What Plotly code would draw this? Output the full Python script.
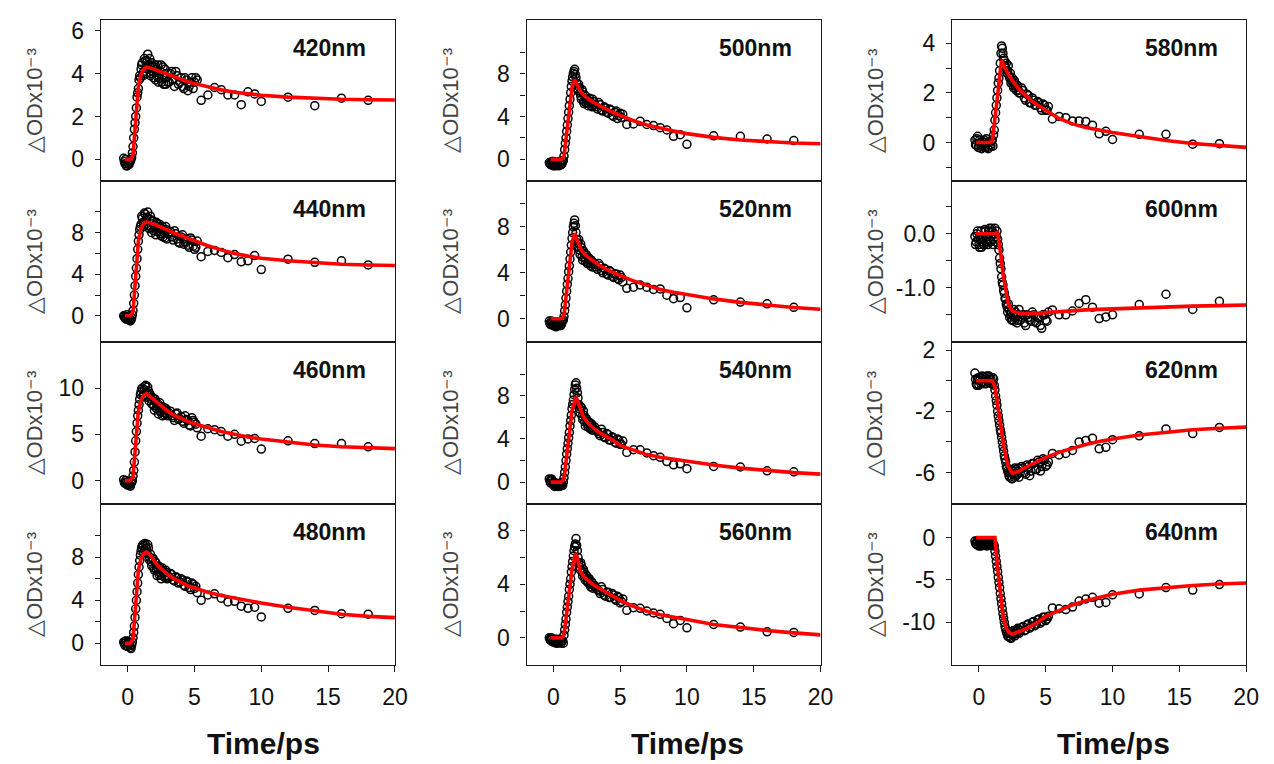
import plotly.graph_objects as go

# ---------------- data ----------------
DATA_T = [-0.3, -0.2, -0.1, 0.0, 0.1, 0.2, 0.3, 0.4, 0.5, 0.6,
          0.7, 0.8, 0.9, 1.0, 1.1, 1.2, 1.3, 1.4, 1.5, 1.6,
          1.7, 1.8, 1.9, 2.0, 2.1, 2.2, 2.3, 2.4, 2.5, 2.6,
          2.7, 2.8, 2.9, 3.0,
          3.2, 3.4, 3.6, 3.8, 4.0, 4.2, 4.4, 4.6, 4.8, 5.0, 5.2,
          5.5, 6.0, 6.5, 7.0, 7.5, 8.0, 8.5, 9.0, 9.5, 10.0, 12.0, 14.0, 16.0, 18.0]

# second (interleaved) scan of the dense early-time region
DATA_T2 = [-0.25, -0.15, -0.05, 0.05, 0.15, 0.25, 0.35, 0.45, 0.55, 0.65,
           0.75, 0.85, 0.95, 1.05, 1.15, 1.25, 1.35, 1.45, 1.55, 1.65,
           1.75, 1.85, 1.95, 2.05, 2.15, 2.25, 2.35, 2.45, 2.55, 2.65,
           2.75, 2.85, 2.95,
           3.1, 3.3, 3.5, 3.7, 3.9, 4.1, 4.3, 4.5, 4.7, 4.9, 5.1]

FIT_T = [-0.2, 0.2, 0.4, 0.6, 0.8, 1.0, 1.2, 1.4, 1.6, 1.7, 1.8, 2.0, 2.2, 2.5,
         3.0, 3.5, 4.0, 4.5, 5.0, 6.0, 7.0, 8.0, 9.0, 10.0, 12.0, 14.0, 16.0, 18.0, 20.0]

OD_420 = [0.05, -0.2, -0.3, -0.15, -0.25, -0.1, 0.1, 0.6, 1.4, 2.0,
          2.9, 3.3, 3.9, 4.2, 4.5, 4.1, 4.6, 4.3, 4.9, 4.4,
          3.9, 4.5, 4.1, 4.3, 3.7, 4.2, 3.6, 4.0, 4.4, 3.9,
          3.5, 4.2, 3.8, 3.6,
          4.0, 3.7, 4.1, 3.5, 3.8, 3.3, 3.7, 3.4, 3.8, 3.6, 3.7,
          2.75, 3.0, 3.35, 3.25, 3.0, 3.0, 2.55, 3.15, 3.05, 2.7, 2.9, 2.5, 2.85, 2.75]
OD_440 = [0.0, -0.2, -0.3, -0.1, -0.4, -0.5, -0.2, 0.5, 2.0, 3.8,
          5.5, 7.2, 8.3, 8.8, 9.4, 8.6, 9.8, 9.2, 10.0, 8.4,
          9.6, 8.0, 9.1, 8.5, 7.8, 8.9, 8.2, 8.8, 7.7, 8.6,
          8.0, 7.5, 8.3, 7.9,
          8.1, 7.3, 7.9, 7.1, 7.6, 6.9, 7.4, 6.6, 7.3, 6.4, 7.2,
          5.7, 6.2, 6.3, 6.1, 5.6, 5.9, 5.2, 5.3, 5.8, 4.45, 5.45, 5.15, 5.3, 4.9]
OD_460 = [0.1, -0.3, -0.2, -0.5, -0.3, -0.6, -0.2, 0.5, 2.0, 4.3,
          6.2, 7.6, 8.8, 9.6, 10.0, 9.3, 10.2, 9.6, 10.1, 8.6,
          9.2, 8.3, 8.9, 7.6, 8.5, 8.0, 7.2, 8.4, 7.5, 7.0,
          7.9, 7.3, 7.6, 7.0,
          7.5, 6.8, 7.2, 6.6, 6.9, 6.2, 6.6, 6.0, 6.8, 6.3, 5.7,
          4.8, 5.6, 5.5, 5.3, 4.8, 5.0, 4.25, 4.5, 4.55, 3.4, 4.3, 4.0, 4.0, 3.65]
OD_480 = [0.1, -0.2, 0.2, -0.3, 0.0, -0.4, -0.2, 0.5, 1.6, 3.2,
          4.8, 6.4, 7.7, 8.6, 9.1, 8.4, 9.3, 8.8, 9.2, 7.8,
          8.3, 7.2, 7.9, 6.8, 7.5, 6.3, 7.2, 6.6, 6.0, 7.0,
          6.5, 6.1, 6.6, 6.3,
          6.5, 5.9, 6.2, 5.6, 6.0, 5.4, 5.8, 5.2, 5.6, 5.1, 4.7,
          4.0, 4.5, 4.6, 4.2, 3.85, 3.9, 3.45, 3.25, 3.35, 2.45, 3.25, 3.05, 2.75, 2.7]
OD_500 = [-0.3, -0.5, -0.2, -0.6, -0.3, -0.5, -0.4, -0.6, -0.3, -0.5,
          -0.2, 0.3, 1.5, 2.6, 3.8, 5.0, 6.2, 7.3, 8.0, 8.4,
          7.6, 6.6, 7.0, 6.2, 5.6, 6.3, 5.2, 5.9, 5.5, 5.0,
          5.7, 5.3, 4.9, 5.4,
          4.9, 5.3, 4.6, 4.9, 4.4, 4.7, 4.1, 4.4, 3.8, 4.3, 4.2,
          3.25, 3.3, 3.55, 3.25, 3.15, 2.95, 2.75, 2.15, 2.3, 1.4, 2.2, 2.15, 1.9, 1.75]
OD_520 = [-0.2, -0.5, -0.3, -0.6, -0.4, -0.7, -0.3, -0.6, -0.4, -0.5,
          -0.2, 0.2, 1.2, 2.4, 3.5, 4.6, 5.8, 7.0, 8.0, 8.6,
          7.5, 6.3, 6.9, 5.6, 6.2, 5.1, 5.7, 5.0, 5.5, 4.9,
          5.2, 4.6, 5.0, 4.7,
          4.5, 4.8, 4.2, 4.4, 3.9, 4.2, 3.7, 3.9, 3.5, 3.8, 3.2,
          2.65, 2.75, 2.95, 2.75, 2.55, 2.6, 2.05, 1.75, 1.85, 0.95, 1.65, 1.45, 1.3, 1.0]
OD_540 = [0.3, -0.1, 0.2, -0.2, -0.4, -0.1, -0.3, -0.2, -0.4, -0.1,
          -0.3, 0.4, 1.4, 2.6, 3.6, 4.6, 5.7, 6.8, 7.6, 8.6,
          9.2, 8.3, 7.2, 6.4, 6.9, 5.8, 6.2, 5.2, 5.8, 5.1,
          5.5, 4.9, 5.3, 5.0,
          4.8, 4.5, 4.9, 4.2, 4.5, 3.9, 4.2, 3.7, 4.0, 3.5, 3.8,
          2.75, 3.0, 3.0, 2.7, 2.45, 2.3, 1.9, 1.6, 1.7, 1.25, 1.45, 1.4, 1.05, 0.95]
OD_560 = [0.0, -0.2, -0.1, -0.3, -0.1, -0.4, -0.2, -0.3, -0.1, -0.4,
          -0.2, 0.2, 1.0, 1.9, 2.7, 3.6, 4.4, 5.3, 6.1, 6.8,
          7.4, 6.5, 5.6, 5.1, 5.4, 4.6, 4.9, 4.3, 4.6, 4.1,
          4.4, 3.8, 4.1, 3.9,
          3.7, 3.5, 3.8, 3.2, 3.4, 3.0, 3.3, 2.9, 3.1, 2.6, 2.9,
          2.05, 2.25, 2.2, 2.0, 1.85, 1.75, 1.45, 1.05, 1.3, 0.75, 1.0, 0.8, 0.45, 0.4]
OD_580 = [0.1, -0.1, 0.25, -0.2, 0.0, -0.25, -0.1, 0.1, -0.2, -0.05,
          -0.25, 0.05, -0.15, 0.1, 0.3, 0.9, 1.5, 2.1, 2.6, 3.2,
          3.9, 3.6, 3.3, 3.0, 2.8, 3.1, 2.6, 2.4, 2.6, 2.2,
          2.4, 2.1, 2.3, 2.0,
          2.2, 1.8, 1.95, 1.6, 1.8, 1.5, 1.65, 1.4, 1.55, 1.3, 1.45,
          0.95, 1.05, 1.0, 0.87, 0.87, 0.85, 0.7, 0.35, 0.45, 0.12, 0.33, 0.33, -0.07, -0.05]
OD_600 = [-0.05, -0.15, 0.05, -0.2, -0.1, -0.25, -0.05, -0.2, 0.05, -0.15,
          -0.1, 0.1, -0.05, 0.05, -0.1, 0.1, -0.05, -0.1, -0.3, -0.55,
          -0.8, -0.95, -1.1, -1.2, -1.35, -1.3, -1.55, -1.45, -1.6, -1.4,
          -1.55, -1.5, -1.6, -1.4,
          -1.55, -1.65, -1.5, -1.6, -1.45, -1.62, -1.55, -1.7, -1.5, -1.6, -1.45,
          -1.41, -1.5, -1.5, -1.43, -1.29, -1.22, -1.36, -1.57, -1.54, -1.5, -1.31, -1.12, -1.4, -1.25]
OD_620 = [0.5, -0.2, 0.1, -0.3, 0.2, -0.1, 0.25, -0.2, 0.1, 0.3,
          -0.1, 0.2, 0.1, -0.2, 0.1, -0.6, -1.3, -2.0, -2.6, -3.2,
          -3.7, -4.3, -4.9, -5.3, -5.7, -6.0, -6.3, -5.8, -6.4, -6.1,
          -5.7, -6.2, -5.9, -6.3,
          -5.6, -6.0, -5.5, -6.2, -5.4, -5.8, -5.2, -5.9, -5.1, -5.6, -5.3,
          -4.75, -4.85, -4.75, -4.55, -4.0, -3.9, -3.75, -4.45, -4.35, -3.85, -3.6, -3.15, -3.45, -3.05]
OD_640 = [-0.4, -0.8, -0.5, -1.0, -0.6, -0.9, -0.5, -0.8, -0.6, -1.0,
          -0.7, -0.5, -0.9, -0.6, -0.8, -1.6, -2.8, -4.0, -5.3, -6.6,
          -7.8, -9.0, -10.0, -10.8, -11.3, -11.7, -11.2, -11.9, -11.5, -11.0,
          -11.6, -11.1, -10.7, -11.3,
          -10.6, -11.0, -10.3, -10.7, -10.0, -10.4, -9.7, -10.1, -9.4, -9.8, -9.3,
          -8.3, -8.4, -8.5, -8.2, -7.5, -7.25, -7.05, -7.75, -7.65, -6.75, -6.65, -5.9, -6.2, -5.55]

# second scan values (at DATA_T2)
OD2_420 = [-0.1, 0.0, -0.3, -0.2, -0.1, 0.0, 0.3, 1.0, 1.7, 2.4,
           3.1, 3.7, 3.8, 4.4, 3.9, 4.7, 4.0, 4.6, 4.2, 4.7,
           4.0, 4.3, 3.8, 4.4, 3.9, 4.4, 3.8, 4.1, 3.6, 4.3,
           3.8, 3.5, 4.0,
           3.6, 4.1, 3.4, 3.9, 3.6, 3.4, 3.8, 3.2, 3.6, 3.3, 3.8]
OD2_440 = [-0.1, -0.3, 0.1, -0.2, -0.3, -0.4, 0.1, 1.2, 2.9, 4.6,
           6.4, 7.8, 8.6, 9.6, 9.0, 9.9, 8.8, 9.5, 8.7, 9.3,
           8.5, 9.2, 8.2, 8.7, 9.0, 8.1, 8.6, 7.9, 8.4, 7.6,
           8.2, 8.6, 7.4,
           8.0, 7.6, 8.2, 7.4, 7.0, 7.8, 7.1, 6.8, 7.5, 6.7, 6.6]
OD2_460 = [-0.2, 0.0, -0.4, -0.1, -0.5, -0.3, 0.0, 1.1, 3.1, 5.3,
           7.0, 8.2, 9.3, 9.9, 9.1, 9.8, 10.3, 9.0, 9.7, 9.4,
           8.8, 9.0, 8.1, 8.8, 7.8, 8.3, 7.9, 7.4, 8.0, 7.7,
           7.1, 7.8, 7.2,
           7.3, 7.0, 6.5, 7.3, 6.7, 6.4, 7.0, 6.5, 5.9, 6.5, 6.1]
OD2_480 = [0.0, 0.2, -0.3, 0.1, -0.2, -0.5, 0.1, 1.0, 2.4, 4.0,
           5.6, 7.1, 8.2, 8.9, 9.2, 8.7, 9.1, 8.4, 8.9, 8.0,
           7.6, 7.9, 7.0, 7.6, 6.9, 7.0, 6.4, 7.0, 6.3, 6.7,
           6.2, 6.8, 6.0,
           6.1, 6.4, 5.8, 6.1, 5.7, 5.9, 5.3, 5.7, 5.0, 5.5, 5.3]
OD2_500 = [-0.4, -0.3, -0.5, -0.2, -0.6, -0.3, -0.5, -0.2, -0.5, -0.4,
           -0.1, 0.9, 2.0, 3.2, 4.4, 5.6, 6.8, 7.7, 8.2, 7.9,
           7.1, 6.4, 6.7, 5.9, 6.5, 5.4, 6.0, 5.3, 5.6, 5.2,
           5.4, 5.0, 5.6,
           5.1, 4.7, 5.1, 4.5, 4.8, 4.3, 4.6, 4.0, 4.5, 4.1, 3.9]
OD2_520 = [-0.4, -0.2, -0.5, -0.4, -0.6, -0.3, -0.5, -0.3, -0.6, -0.3,
           -0.1, 0.7, 1.8, 3.0, 4.1, 5.2, 6.4, 7.5, 8.3, 8.1,
           6.9, 6.6, 6.0, 6.5, 5.4, 5.9, 5.3, 5.6, 4.8, 5.3,
           4.8, 5.1, 4.5,
           4.8, 4.3, 4.6, 4.0, 4.3, 3.8, 4.1, 3.6, 3.9, 3.4, 3.6]
OD2_540 = [0.1, 0.3, -0.1, 0.0, -0.3, -0.2, -0.4, -0.1, -0.3, -0.2,
           0.0, 0.9, 2.0, 3.1, 4.1, 5.2, 6.2, 7.2, 8.1, 9.0,
           8.7, 7.8, 6.8, 7.0, 6.1, 6.6, 5.6, 5.9, 5.4, 5.6,
           5.0, 5.4, 4.8,
           5.1, 4.7, 4.3, 4.6, 4.1, 4.4, 3.9, 4.1, 3.6, 3.9, 3.5]
OD2_560 = [-0.1, 0.0, -0.3, -0.2, -0.3, -0.1, -0.4, -0.2, -0.3, -0.2,
           -0.4, 0.6, 1.4, 2.3, 3.1, 4.0, 4.9, 5.7, 6.5, 7.0,
           6.9, 6.0, 5.3, 5.6, 4.9, 5.1, 4.5, 4.7, 4.2, 4.4,
           4.0, 4.2, 3.7,
           3.9, 3.6, 3.3, 3.6, 3.1, 3.4, 3.0, 3.2, 2.8, 3.0, 2.7]
OD2_580 = [-0.1, 0.15, -0.2, 0.1, -0.15, 0.05, -0.2, 0.0, 0.15, -0.2,
           0.0, -0.1, 0.05, -0.15, 0.5, 1.2, 1.8, 2.4, 2.9, 3.6,
           3.8, 3.4, 3.1, 3.2, 2.9, 2.7, 2.8, 2.5, 2.3, 2.5,
           2.2, 2.3, 2.1,
           2.0, 2.1, 1.7, 1.9, 1.6, 1.7, 1.5, 1.6, 1.3, 1.5, 1.3]
OD2_600 = [-0.2, 0.0, -0.1, -0.25, 0.05, -0.15, -0.2, 0.08, -0.1, -0.2,
           0.05, -0.15, 0.1, -0.2, 0.0, -0.15, 0.05, -0.2, -0.45, -0.65,
           -0.9, -1.05, -1.2, -1.3, -1.45, -1.4, -1.5, -1.6, -1.5, -1.62,
           -1.45, -1.65, -1.5,
           -1.6, -1.5, -1.7, -1.55, -1.62, -1.5, -1.65, -1.55, -1.75, -1.5, -1.62]
OD2_620 = [0.1, -0.3, 0.2, 0.0, -0.2, 0.3, -0.1, 0.2, -0.2, 0.0,
           0.3, -0.1, -0.2, 0.2, -0.3, -1.0, -1.6, -2.3, -2.9, -3.4,
           -4.0, -4.6, -5.1, -5.6, -5.9, -6.2, -6.0, -6.4, -5.9, -6.3,
           -5.8, -6.1, -5.7,
           -6.0, -5.7, -6.1, -5.6, -5.9, -5.4, -5.8, -5.3, -5.6, -5.2, -5.5]
OD2_640 = [-0.7, -0.4, -0.9, -0.6, -1.0, -0.7, -0.4, -0.9, -0.7, -0.5,
           -0.9, -0.7, -0.5, -0.9, -1.0, -2.2, -3.4, -4.7, -5.9, -7.2,
           -8.4, -9.5, -10.5, -11.1, -11.6, -11.2, -11.8, -11.4, -11.0, -11.4,
           -10.9, -11.3, -10.8,
           -11.0, -10.5, -10.9, -10.2, -10.5, -9.9, -10.2, -9.6, -9.9, -9.4, -9.6]

FIT_420 = [0, 0, 0.2, 1.9, 3.4, 3.95, 4.2, 4.3, 4.28, 4.26, 4.24, 4.2, 4.15, 4.08,
           3.95, 3.83, 3.72, 3.62, 3.53, 3.37, 3.24, 3.13, 3.05, 2.99, 2.9, 2.84, 2.8, 2.78, 2.77]
FIT_440 = [0, 0, 0.4, 4.0, 7.2, 8.4, 8.9, 9.05, 9.0, 8.95, 8.9, 8.8, 8.7, 8.55,
           8.25, 7.95, 7.7, 7.45, 7.2, 6.75, 6.35, 6.0, 5.75, 5.55, 5.3, 5.1, 4.97, 4.9, 4.85]
FIT_460 = [0, 0, 0.4, 4.2, 7.5, 8.7, 9.2, 9.4, 9.2, 9.07, 8.95, 8.7, 8.45, 8.1,
           7.5, 7.05, 6.7, 6.4, 6.15, 5.7, 5.3, 5.0, 4.7, 4.5, 4.15, 3.85, 3.65, 3.52, 3.45]
FIT_480 = [0, 0, 0.4, 3.8, 6.8, 7.9, 8.35, 8.5, 8.35, 8.2, 8.0, 7.6, 7.3, 6.95,
           6.4, 6.0, 5.65, 5.35, 5.15, 4.75, 4.45, 4.2, 3.95, 3.75, 3.35, 3.0, 2.7, 2.5, 2.38]
FIT_500 = [0, 0, 0, 0, 0.3, 2.5, 4.8, 6.7, 7.45, 7.2, 6.85, 6.4, 6.1, 5.75,
           5.3, 4.95, 4.65, 4.35, 4.1, 3.6, 3.2, 2.9, 2.65, 2.4, 2.05, 1.8, 1.62, 1.52, 1.45]
FIT_520 = [0, 0, 0, 0, 0.3, 2.5, 4.7, 6.6, 7.45, 7.2, 6.8, 6.2, 5.8, 5.45,
           5.0, 4.6, 4.3, 4.0, 3.75, 3.3, 2.9, 2.55, 2.3, 2.1, 1.73, 1.43, 1.18, 0.98, 0.83]
FIT_540 = [0, 0, 0, 0, 0.3, 2.4, 4.6, 6.6, 7.5, 7.9, 7.6, 6.8, 6.2, 5.6,
           5.0, 4.55, 4.2, 3.85, 3.4, 2.95, 2.55, 2.3, 2.1, 1.9, 1.58, 1.3, 1.07, 0.88, 0.74]
FIT_560 = [0, 0, 0, 0, 0.2, 1.9, 3.6, 5.1, 6.0, 6.3, 6.0, 5.0, 4.7, 4.35,
           3.95, 3.65, 3.35, 3.05, 2.8, 2.35, 1.98, 1.72, 1.52, 1.36, 1.0, 0.75, 0.55, 0.37, 0.22]
FIT_580 = [0, 0, 0, 0, 0, 0.05, 0.9, 1.9, 2.9, 3.33, 3.2, 2.95, 2.75, 2.5,
           2.15, 1.9, 1.65, 1.47, 1.3, 0.97, 0.75, 0.6, 0.5, 0.4, 0.24, 0.08, -0.04, -0.13, -0.2]
FIT_600 = [0, 0, 0, 0, 0, 0, 0, 0.02, -0.3, -0.5, -0.74, -1.05, -1.3, -1.43,
           -1.47, -1.48, -1.48, -1.47, -1.46, -1.44, -1.43, -1.41, -1.4, -1.39, -1.37, -1.35, -1.34, -1.33, -1.32]
FIT_620 = [0, 0, 0, 0, 0, 0, -0.4, -1.7, -3.0, -3.5, -3.9, -4.9, -5.6, -6.05,
           -5.9, -5.65, -5.45, -5.22, -5.0, -4.68, -4.4, -4.17, -3.97, -3.8, -3.55, -3.35, -3.2, -3.1, -3.03]
FIT_640 = [0, 0, 0, 0, 0, 0, 0, -3.5, -6.4, -7.9, -9.2, -10.5, -11.1, -11.4,
           -11.15, -10.8, -10.35, -9.9, -9.3, -8.6, -7.95, -7.45, -7.05, -6.7, -6.2, -5.9, -5.65, -5.48, -5.36]

LABELS = ["420nm", "440nm", "460nm", "480nm",
          "500nm", "520nm", "540nm", "560nm",
          "580nm", "600nm", "620nm", "640nm"]
SERIES = [OD_420, OD_440, OD_460, OD_480, OD_500, OD_520, OD_540, OD_560,
          OD_580, OD_600, OD_620, OD_640]
SERIES2 = [OD2_420, OD2_440, OD2_460, OD2_480, OD2_500, OD2_520, OD2_540, OD2_560,
           OD2_580, OD2_600, OD2_620, OD2_640]
FITS = [FIT_420, FIT_440, FIT_460, FIT_480, FIT_500, FIT_520, FIT_540, FIT_560,
        FIT_580, FIT_600, FIT_620, FIT_640]

X_TICKS = [0, 5, 10, 15, 20]
Y_TICKVALS = [[0, 2, 4, 6], [0, 4, 8], [0, 5, 10], [0, 4, 8],
              [0, 4, 8], [0, 4, 8], [0, 4, 8], [0, 4, 8],
              [0, 2, 4], [-1.0, 0.0], [-6, -2, 2], [-10, -5, 0]]
Y_TICKTEXT = [["0", "2", "4", "6"], ["0", "4", "8"], ["0", "5", "10"], ["0", "4", "8"],
              ["0", "4", "8"], ["0", "4", "8"], ["0", "4", "8"], ["0", "4", "8"],
              ["0", "2", "4"], ["-1.0", "0.0"], ["-6", "-2", "2"], ["-10", "-5", "0"]]
Y_MINOR = [[], [2, 6, 10], [], [2, 6, 10],
           [2, 6, 10], [2, 6, 10], [2, 6, 10], [2, 6],
           [-1, 1, 3], [-1.5, -0.5, 0.5], [-4, 0], []]
Y_TITLE = "△ODx10⁻³"
X_TITLE = "Time/ps"

# ---------------- layout constants ----------------
W, H = 1274, 764
Y_RANGES = [[-1.0, 6.5], [-2.5, 13.0], [-2.5, 15.0], [-2.0, 13.0],
            [-2.0, 13.0], [-2.0, 12.0], [-2.0, 13.0], [-2.0, 10.0],
            [-1.55, 4.95], [-2.0, 0.98], [-8.03, 2.54], [-15.0, 4.0]]
COL_X = [(102, 399), (532, 829), (962, 1259)]
ROW_Y = [(15, 177), (177, 339), (339, 502), (502, 664)]
YTITLE_X = [35, 455, 884]
LABEL_RIGHT = [372, 802, 1233]
XTITLE_X = [266, 695, 1125]

FONT = "Liberation Sans, Arial, sans-serif"
FRAME = "#1a1a1a"
TICKFONT = dict(family=FONT, size=23, color="#111")

fig = go.Figure()
annotations = []
layout_axes = {}

for k in range(12):
    c, r = divmod(k, 4)
    assert len(SERIES[k]) == len(DATA_T)
    assert len(SERIES2[k]) == len(DATA_T2)
    assert len(FITS[k]) == len(FIT_T)
    sfx = "" if k == 0 else str(k + 1)
    xa, ya = "x" + sfx, "y" + sfx
    marker = dict(symbol="circle-open", size=8, color="black",
                  line=dict(color="black", width=1.5))
    fig.add_trace(go.Scatter(
        x=DATA_T2, y=SERIES2[k], xaxis=xa, yaxis=ya, mode="markers",
        marker=marker, showlegend=False, hoverinfo="skip"))
    fig.add_trace(go.Scatter(
        x=DATA_T, y=SERIES[k], xaxis=xa, yaxis=ya, mode="markers",
        marker=marker, showlegend=False, hoverinfo="skip"))
    fig.add_trace(go.Scatter(
        x=FIT_T, y=FITS[k], xaxis=xa, yaxis=ya, mode="lines",
        line=dict(color="#ff0000", width=3.6),
        showlegend=False, hoverinfo="skip"))

    x0, x1 = COL_X[c]
    y0, y1 = ROW_Y[r]
    bottom = (r == 3)
    layout_axes["xaxis" + sfx] = dict(
        domain=[x0 / W, x1 / W], anchor=ya, range=[-2, 20],
        tickmode="array", tickvals=X_TICKS,
        ticks="outside" if bottom else "", ticklen=6,
        tickwidth=1.2, tickcolor=FRAME,
        showticklabels=bottom, tickfont=TICKFONT, ticklabelstandoff=6,
        showline=True, mirror=True, linecolor=FRAME, linewidth=1.4,
        showgrid=False, zeroline=False, fixedrange=True)
    yax = dict(
        domain=[1 - y1 / H, 1 - y0 / H], anchor=xa, range=Y_RANGES[k],
        tickmode="array", tickvals=Y_TICKVALS[k], ticktext=Y_TICKTEXT[k],
        ticks="outside", ticklen=5, tickwidth=1.2, tickcolor=FRAME,
        tickfont=TICKFONT, ticklabelstandoff=6,
        showline=True, mirror=True, linecolor=FRAME, linewidth=1.4,
        showgrid=False, zeroline=False, fixedrange=True)
    if Y_MINOR[k]:
        yax["minor"] = dict(tickmode="array", tickvals=Y_MINOR[k], ticks="outside",
                            ticklen=5, tickwidth=1.2, tickcolor=FRAME, showgrid=False)
    layout_axes["yaxis" + sfx] = yax

    # y title (rotated)
    annotations.append(dict(
        xref="paper", yref="paper", x=YTITLE_X[c] / W, y=1 - (y0 + y1) / 2 / H,
        text=Y_TITLE, textangle=-90, showarrow=False,
        xanchor="center", yanchor="middle",
        font=dict(family=FONT, size=22, color="#444")))
    # wavelength label
    annotations.append(dict(
        xref="paper", yref="paper", x=LABEL_RIGHT[c] / W, y=1 - (y0 + 28) / H,
        text="<b>%s</b>" % LABELS[k], showarrow=False,
        xanchor="right", yanchor="middle",
        font=dict(family=FONT, size=23, color="#111")))

for c in range(3):
    annotations.append(dict(
        xref="paper", yref="paper", x=XTITLE_X[c] / W, y=1 - 743 / H,
        text="<b>%s</b>" % X_TITLE, showarrow=False, xanchor="center", yanchor="middle",
        font=dict(family=FONT, size=30, color="#111")))

fig.update_layout(
    width=W, height=H, margin=dict(l=0, r=0, t=0, b=0),
    paper_bgcolor="white", plot_bgcolor="white",
    annotations=annotations, showlegend=False, **layout_axes)

fig.write_html(
    "out.html", config={"displayModeBar": False},
    post_script=("document.documentElement.style.margin='0';"
                 "document.documentElement.style.overflow='hidden';"
                 "document.body.style.margin='0';document.body.style.padding='0';"
                 "document.body.style.overflow='hidden';"))
